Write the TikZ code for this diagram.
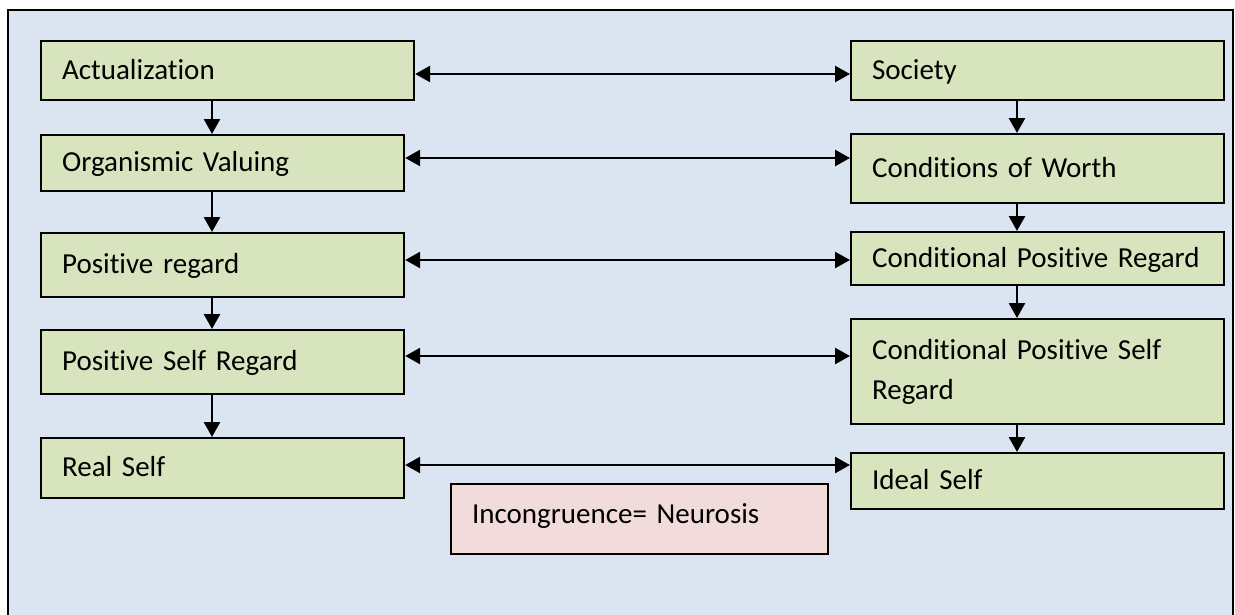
\documentclass[tikz,border=0pt]{standalone}
\usepackage{fontspec}
\setmainfont{Carlito}[Ligatures={NoCommon}]
\usetikzlibrary{arrows.meta}
\definecolor{bgblue}{HTML}{DBE5F1}
\definecolor{boxgreen}{HTML}{D7E4BD}
\definecolor{boxpink}{HTML}{F2DCDB}
\begin{document}
\begin{tikzpicture}[x=1pt,y=-1pt,
  >={Triangle[length=15pt,width=16pt]},
  box/.style={draw=black, line width=2.2pt, fill=boxgreen, anchor=north west,
    inner xsep=21pt, inner ysep=0pt, align=left,
    font=\fontsize{29}{40}\selectfont, text height=20pt, text depth=3pt},
  twoline/.style={box, text height=, text depth=},
  pinkbox/.style={box, fill=boxpink, text height=19pt, text depth=11pt},
  conn/.style={line width=2.6pt}]
\useasboundingbox (0,0) rectangle (1235,614);
\clip (0,0) rectangle (1235,614);
\fill[white] (0,0) rectangle (1235,614);
\draw[line width=2.4pt, fill=bgblue] (8,10) rectangle (1233,640);
% left column
\node[box, text width=331pt, minimum height=59pt] (act) at (40,40) {Actualization};
\node[box, text width=321pt, minimum height=56pt] (ov) at (40,134) {Organismic Valuing};
\node[box, text width=321pt, minimum height=64pt] (pr) at (40,232) {Positive regard};
\node[box, text width=321pt, minimum height=64pt] (psr) at (40,329) {Positive Self Regard};
\node[box, text width=321pt, minimum height=60pt] (rs) at (40,437) {Real Self};
% right column
\node[box, text width=331pt, minimum height=59pt] (soc) at (850,40) {Society};
\node[box, text width=331pt, minimum height=69pt] (cow) at (850,133) {Conditions of Worth};
\node[box, text width=331pt, minimum height=53pt] (cpr) at (850,231) {Conditional Positive Regard};
\node[twoline, text width=331pt, minimum height=105pt] (cpsr) at (850,318) {Conditional Positive Self\\Regard};
\node[box, text width=331pt, minimum height=56pt] (is) at (850,452) {Ideal Self};
% pink box
\node[pinkbox, text width=335pt, minimum height=70pt] (inc) at (450,483) {Incongruence= Neurosis};
% horizontal connectors
\draw[conn,<->] (act.east |- 0,74) -- (soc.west |- 0,74);
\draw[conn,<->] (ov.east |- 0,158) -- (cow.west |- 0,158);
\draw[conn,<->] (pr.east |- 0,260) -- (cpr.west |- 0,260);
\draw[conn,<->] (psr.east |- 0,356) -- (cpsr.west |- 0,356);
\draw[conn,<->] (rs.east |- 0,465) -- (is.west |- 0,465);
% vertical connectors
\draw[conn,->] (act.south -| 212,0) -- (ov.north -| 212,0);
\draw[conn,->] (ov.south -| 212,0) -- (pr.north -| 212,0);
\draw[conn,->] (pr.south -| 212,0) -- (psr.north -| 212,0);
\draw[conn,->] (psr.south -| 212,0) -- (rs.north -| 212,0);
\draw[conn,->] (soc.south -| 1017,0) -- (cow.north -| 1017,0);
\draw[conn,->] (cow.south -| 1017,0) -- (cpr.north -| 1017,0);
\draw[conn,->] (cpr.south -| 1017,0) -- (cpsr.north -| 1017,0);
\draw[conn,->] (cpsr.south -| 1017,0) -- (is.north -| 1017,0);
\end{tikzpicture}
\end{document}
